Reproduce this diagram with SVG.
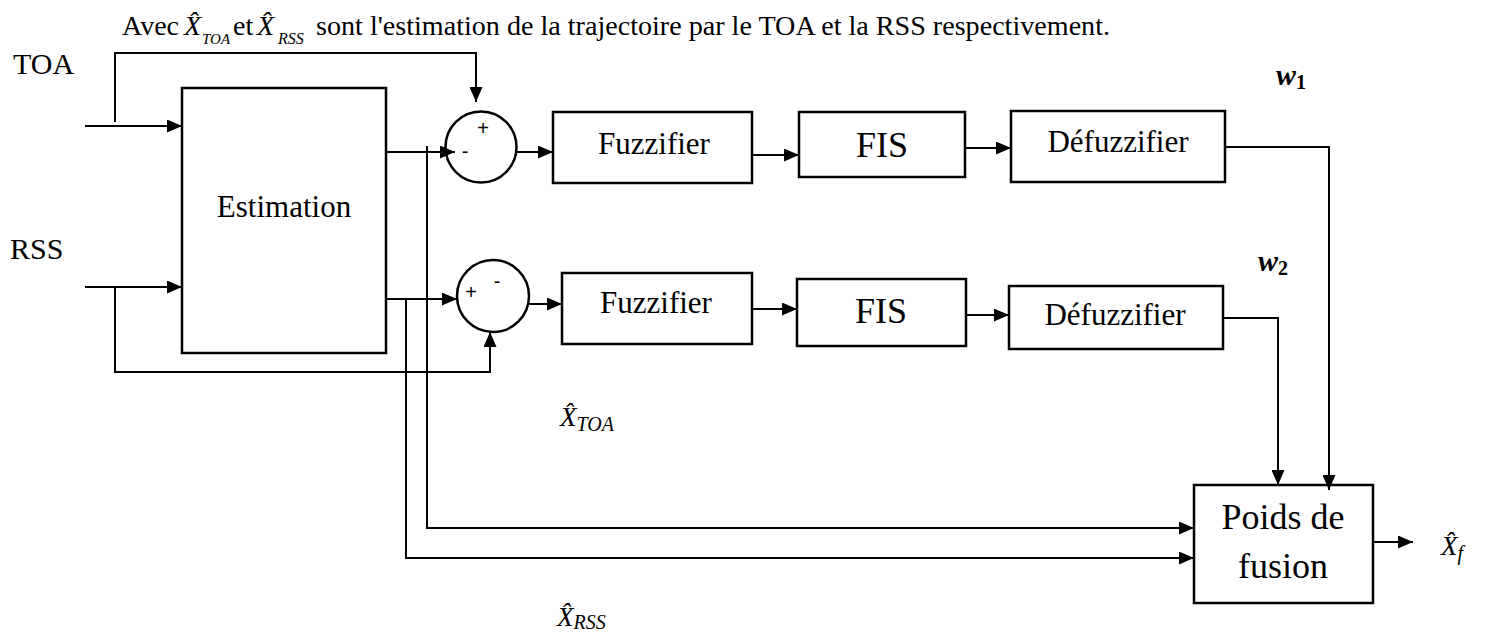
<svg xmlns="http://www.w3.org/2000/svg" width="1487" height="639" viewBox="0 0 1487 639">
<defs>
<style>
.bx{fill:#fff;stroke:#000;stroke-width:2.5}
.ln{fill:none;stroke:#000;stroke-width:2}
.t{font-family:"Liberation Serif","Times New Roman",serif;fill:#000}
.c{text-anchor:middle}
.m{font-family:"Liberation Serif","DejaVu Serif",serif;font-style:italic;fill:#000}
.sg{font-family:"Liberation Sans",Arial,sans-serif;font-size:20px;text-anchor:middle;fill:#000}
</style>
<marker id="ar" markerUnits="userSpaceOnUse" markerWidth="15" markerHeight="13" refX="15" refY="6.5" orient="auto">
<path d="M0,0 L15,6.5 L0,13 z" fill="#000"/>
</marker>
</defs>
<rect width="1487" height="639" fill="#fff"/>

<g id="caption">
<text class="t" x="122" y="35" font-size="28">Avec</text>
<text class="m" x="184" y="35" font-size="28">X&#x302;</text>
<text class="m" x="202" y="44" font-size="15">TOA</text>
<text class="t" x="233" y="35" font-size="28">et</text>
<text class="m" x="257" y="35" font-size="28">X&#x302;</text>
<text class="m" x="278" y="44" font-size="16">RSS</text>
<text class="t" x="316" y="35" font-size="28" textLength="794" lengthAdjust="spacingAndGlyphs">sont l'estimation de la trajectoire par le TOA et la RSS respectivement.</text>
</g>

<g id="label-toa"><text class="t" x="13" y="74" font-size="30">TOA</text></g>
<g id="label-rss"><text class="t" x="10" y="259" font-size="30">RSS</text></g>

<g id="estimation">
<rect class="bx" x="182" y="88" width="204" height="265"/>
<text class="t c" x="284" y="217" font-size="31">Estimation</text>
</g>

<g id="sum1">
<circle class="bx" cx="481" cy="147" r="35.5"/>
<text class="sg" x="483" y="135">+</text>
<text class="sg" x="465" y="158">-</text>
</g>
<g id="sum2">
<circle class="bx" cx="493" cy="296" r="36"/>
<text class="sg" x="471" y="299">+</text>
<text class="sg" x="497" y="288">-</text>
</g>

<g id="fuzzifier1">
<rect class="bx" x="553" y="112" width="199" height="71"/>
<text class="t c" x="654" y="154" font-size="31">Fuzzifier</text>
</g>
<g id="fis1">
<rect class="bx" x="799" y="112" width="166" height="65"/>
<text class="t c" x="882" y="157" font-size="36">FIS</text>
</g>
<g id="defuzzifier1">
<rect class="bx" x="1011" y="111" width="214" height="71"/>
<text class="t c" x="1118" y="152" font-size="31">Défuzzifier</text>
</g>

<g id="fuzzifier2">
<rect class="bx" x="562" y="273" width="190" height="71"/>
<text class="t c" x="656" y="313" font-size="31">Fuzzifier</text>
</g>
<g id="fis2">
<rect class="bx" x="797" y="279" width="169" height="67"/>
<text class="t c" x="881" y="323" font-size="36">FIS</text>
</g>
<g id="defuzzifier2">
<rect class="bx" x="1009" y="286" width="214" height="63"/>
<text class="t c" x="1115" y="325" font-size="31">Défuzzifier</text>
</g>

<g id="fusion">
<rect class="bx" x="1194" y="485" width="179" height="118"/>
<text class="t c" x="1283" y="529" font-size="36">Poids de</text>
<text class="t c" x="1283" y="578" font-size="36">fusion</text>
</g>

<g id="label-w1"><text class="m" x="1276" y="85" font-size="30" font-weight="bold">w<tspan font-style="normal" font-size="20" dy="4">1</tspan></text></g>
<g id="label-w2"><text class="m" x="1258" y="271" font-size="30" font-weight="bold">w<tspan font-style="normal" font-size="20" dy="4">2</tspan></text></g>
<g id="label-xtoa"><text class="m" x="560" y="426" font-size="27">X&#x302;<tspan font-size="20" dy="5">TOA</tspan></text></g>
<g id="label-xrss"><text class="m" x="557" y="626" font-size="27">X&#x302;<tspan font-size="20" dy="3">RSS</tspan></text></g>
<g id="label-xf"><text class="m" x="1441" y="555" font-size="27">X&#x302;<tspan font-size="20" dy="5">f</tspan></text></g>

<g id="connectors">
<path class="ln" d="M85,126 H182" marker-end="url(#ar)"/>
<path class="ln" d="M115,122 V53 H476 V102" marker-end="url(#ar)"/>
<path class="ln" d="M85,287 H182" marker-end="url(#ar)"/>
<path class="ln" d="M115,287 V372 H490 V332" marker-end="url(#ar)"/>
<path class="ln" d="M386,152 H455" marker-end="url(#ar)"/>
<path class="ln" d="M517,152 H553" marker-end="url(#ar)"/>
<path class="ln" d="M752,155 H799" marker-end="url(#ar)"/>
<path class="ln" d="M965,148 H1011" marker-end="url(#ar)"/>
<path class="ln" d="M1225,147 H1329 V490" marker-end="url(#ar)"/>
<path class="ln" d="M386,299 H457" marker-end="url(#ar)"/>
<path class="ln" d="M529,304 H562" marker-end="url(#ar)"/>
<path class="ln" d="M752,309 H797" marker-end="url(#ar)"/>
<path class="ln" d="M966,315 H1009" marker-end="url(#ar)"/>
<path class="ln" d="M1223,318 H1278 V485" marker-end="url(#ar)"/>
<path class="ln" d="M427,146 V528 H1194" marker-end="url(#ar)"/>
<path class="ln" d="M406,299 V558 H1194" marker-end="url(#ar)"/>
<path class="ln" d="M1373,542 H1413" marker-end="url(#ar)"/>
</g>
</svg>
